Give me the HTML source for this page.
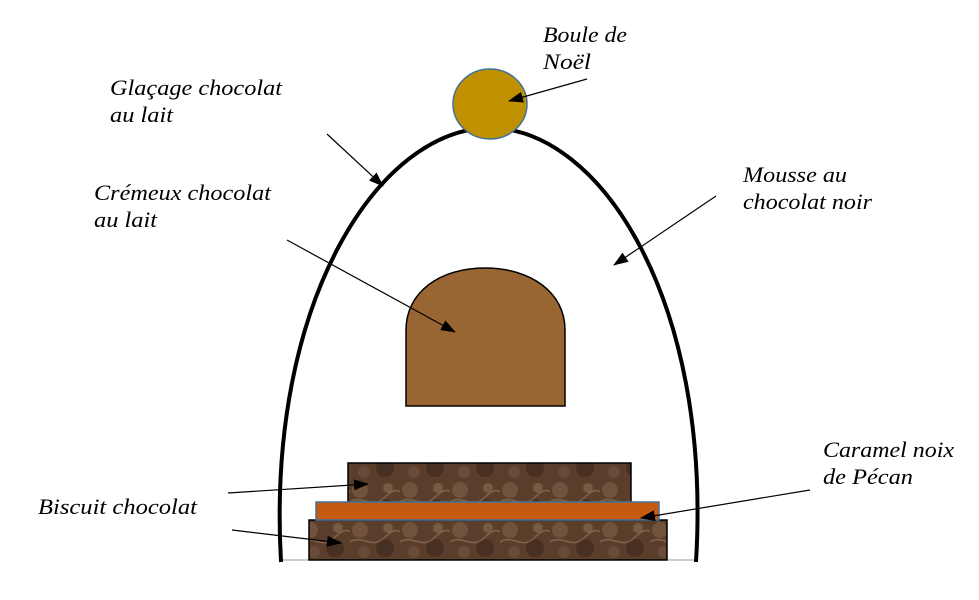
<!DOCTYPE html>
<html><head><meta charset="utf-8"><style>
html,body{margin:0;padding:0;background:#fff;}
svg{display:block;}
text{font-family:"Liberation Serif",serif;font-style:italic;font-size:22px;fill:#000;}
</style></head><body>
<svg width="979" height="600" viewBox="0 0 979 600" xmlns="http://www.w3.org/2000/svg">
<defs>
<marker id="a" markerWidth="15" markerHeight="11" refX="14" refY="5.5" orient="auto" markerUnits="userSpaceOnUse">
<path d="M0,0 L15,5.5 L0,11 Z" fill="#000"/></marker>
<pattern id="bis" width="50" height="40" patternUnits="userSpaceOnUse">
<rect width="50" height="40" fill="#5a3e2b"/>
<circle cx="10" cy="10" r="8" fill="#7a5c44" opacity=".7"/>
<circle cx="35" cy="28" r="9" fill="#3f2a1c" opacity=".7"/>
<circle cx="38" cy="8" r="5" fill="#8a6c52" opacity=".6"/>
<circle cx="14" cy="32" r="6" fill="#6e523d" opacity=".7"/>
<path d="M0,22 C12,14 22,30 34,18 S50,12 50,12" stroke="#9a7c60" stroke-width="1.5" fill="none" opacity=".6"/>
</pattern>
</defs>
<line x1="281" y1="560" x2="696" y2="560" stroke="#999" stroke-width="1"/>
<path d="M281,562 C266,300 380,128 490,128 C600,128 712,300 696,562" fill="none" stroke="#000" stroke-width="4"/>
<ellipse cx="490" cy="104" rx="37" ry="35" fill="#bf9000" stroke="#41719c" stroke-width="1.5"/>
<path d="M406,406 L406,330 C406,292 440,268 485,268 C530,268 565,292 565,330 L565,406 Z" fill="#996633" stroke="#000" stroke-width="1.5"/>
<rect x="348" y="463" width="283" height="40" fill="url(#bis)" stroke="#000" stroke-width="1.5"/>
<rect x="309" y="520" width="358" height="40" fill="url(#bis)" stroke="#000" stroke-width="1.5"/>
<rect x="316" y="502" width="343" height="18" fill="#c55a11" stroke="#41719c" stroke-width="1.5"/>
<g stroke="#000" stroke-width="1.2" fill="none" marker-end="url(#a)">
<line x1="587" y1="79" x2="509" y2="101"/>
<line x1="327" y1="134" x2="383" y2="186"/>
<line x1="716" y1="196" x2="614" y2="265"/>
<line x1="287" y1="240" x2="455" y2="332"/>
<line x1="228" y1="493" x2="368" y2="484"/>
<line x1="232" y1="530" x2="341" y2="543"/>
<line x1="810" y1="490" x2="641" y2="518"/>
</g>
<text x="543" y="42" textLength="84" lengthAdjust="spacingAndGlyphs">Boule de</text>
<text x="543" y="69" textLength="48" lengthAdjust="spacingAndGlyphs">Noël</text>
<text x="110" y="95" textLength="172" lengthAdjust="spacingAndGlyphs">Glaçage chocolat</text>
<text x="110" y="122" textLength="63" lengthAdjust="spacingAndGlyphs">au lait</text>
<text x="94" y="200" textLength="177" lengthAdjust="spacingAndGlyphs">Crémeux chocolat</text>
<text x="94" y="227" textLength="63" lengthAdjust="spacingAndGlyphs">au lait</text>
<text x="743" y="182" textLength="104" lengthAdjust="spacingAndGlyphs">Mousse au</text>
<text x="743" y="209" textLength="129" lengthAdjust="spacingAndGlyphs">chocolat noir</text>
<text x="823" y="457" textLength="131" lengthAdjust="spacingAndGlyphs">Caramel noix</text>
<text x="823" y="484" textLength="90" lengthAdjust="spacingAndGlyphs">de Pécan</text>
<text x="38" y="514" textLength="159" lengthAdjust="spacingAndGlyphs">Biscuit chocolat</text>
</svg>
</body></html>
